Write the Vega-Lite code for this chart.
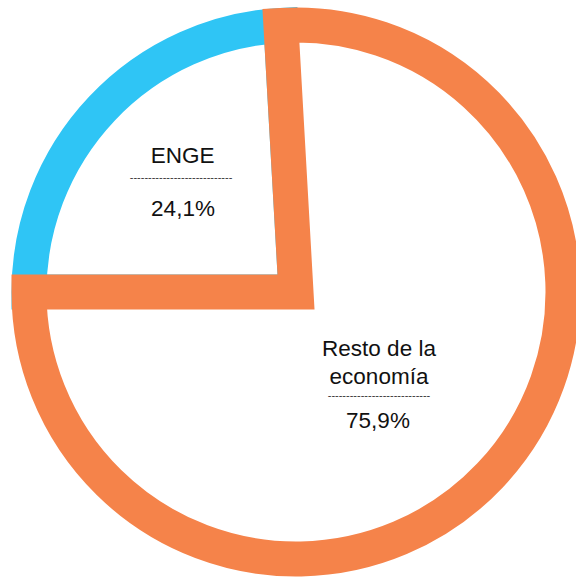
{
  "$schema": "https://vega.github.io/schema/vega-lite/v6.json",
  "width": 592,
  "height": 584,
  "autosize": "none",
  "padding": 0,
  "background": "white",
  "view": {"stroke": null},
  "config": {"text": {"font": "Liberation Sans"}},
  "data": {
    "values": [
      {"categoria": "ENGE", "valor": 24.1, "etiqueta": "ENGE", "pct": "24,1%"},
      {"categoria": "Resto de la economía", "valor": 75.9, "etiqueta": "Resto de la\neconomía", "pct": "75,9%"}
    ]
  },
  "encoding": {
    "theta": {"field": "valor", "type": "quantitative", "stack": true, "scale": {"domain": [0, 100], "range": [4.71239, 10.99557]}},
    "order": {"field": "categoria", "sort": "ascending"}
  },
  "layer": [
    {
      "mark": {"type": "arc", "outerRadius": 267, "innerRadius": 0, "fill": "white", "strokeWidth": 35, "strokeJoin": "miter"},
      "encoding": {
        "stroke": {"field": "categoria", "type": "nominal", "scale": {"domain": ["ENGE", "Resto de la economía"], "range": ["#2FC5F5", "#F5834A"]}, "legend": null}
      }
    },
    {
      "mark": {"type": "text", "radius": 160, "dx": 3, "dy": -19, "fontSize": 22.5, "align": "center", "baseline": "alphabetic", "fill": "#111"},
      "encoding": {"text": {"condition": {"test": "datum.categoria === 'ENGE'", "field": "etiqueta"}, "value": ""}}
    },
    {
      "mark": {"type": "text", "radius": 160, "dx": 1.3, "dy": -1.1, "fontSize": 11, "align": "center", "baseline": "alphabetic", "fill": "#333"},
      "encoding": {"text": {"condition": {"test": "datum.categoria === 'ENGE'", "value": "----------------------------"}, "value": ""}}
    },
    {
      "mark": {"type": "text", "radius": 160, "dx": 3.3, "dy": 34, "fontSize": 22.5, "align": "center", "baseline": "alphabetic", "fill": "#111"},
      "encoding": {"text": {"condition": {"test": "datum.categoria === 'ENGE'", "field": "pct"}, "value": ""}}
    },
    {
      "mark": {"type": "text", "radius": 134, "dx": -14.4, "dy": -28, "fontSize": 22.5, "lineHeight": 28, "lineBreak": "\n", "align": "center", "baseline": "alphabetic", "fill": "#111"},
      "encoding": {"text": {"condition": {"test": "datum.categoria !== 'ENGE'", "field": "etiqueta"}, "value": ""}}
    },
    {
      "mark": {"type": "text", "radius": 134, "dx": -14.4, "dy": 15, "fontSize": 11, "align": "center", "baseline": "alphabetic", "fill": "#333"},
      "encoding": {"text": {"condition": {"test": "datum.categoria !== 'ENGE'", "value": "----------------------------"}, "value": ""}}
    },
    {
      "mark": {"type": "text", "radius": 134, "dx": -15.4, "dy": 44, "fontSize": 22.5, "align": "center", "baseline": "alphabetic", "fill": "#111"},
      "encoding": {"text": {"condition": {"test": "datum.categoria !== 'ENGE'", "field": "pct"}, "value": ""}}
    }
  ]
}
